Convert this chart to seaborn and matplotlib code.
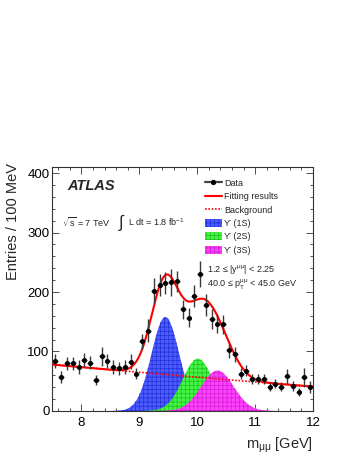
import numpy as np
import pandas as pd
import matplotlib
matplotlib.use('Agg')
import matplotlib.pyplot as plt
import matplotlib.patches as mpatches
from matplotlib.lines import Line2D
from matplotlib.ticker import MultipleLocator
import seaborn as sns

sns.set_theme(style='ticks')
plt.rcParams['font.family'] = ['Liberation Sans', 'DejaVu Sans']
plt.rcParams['mathtext.fontset'] = 'custom'
plt.rcParams['mathtext.rm'] = 'Liberation Sans'
plt.rcParams['mathtext.it'] = 'Liberation Sans:italic'
plt.rcParams['mathtext.bf'] = 'Liberation Sans:bold'
plt.rcParams['mathtext.default'] = 'regular'
plt.rcParams['hatch.linewidth'] = 0.5

# data: dimuon mass bins (GeV), entries / 100 MeV and errors
mass = [7.55, 7.65, 7.75, 7.85, 7.95, 8.05, 8.15, 8.25, 8.35, 8.45,
        8.55, 8.65, 8.75, 8.85, 8.95, 9.05, 9.15, 9.25, 9.35, 9.45,
        9.55, 9.65, 9.75, 9.85, 9.95, 10.05, 10.15, 10.25, 10.35, 10.45,
        10.55, 10.65, 10.75, 10.85, 10.95, 11.05, 11.15, 11.25, 11.35, 11.45,
        11.55, 11.65, 11.75, 11.85, 11.95]
entries = [84, 57, 80, 80, 74, 86, 81, 52, 92, 84,
           74, 72, 74, 83, 63, 117, 135, 202, 212, 215,
           216, 218, 171, 157, 193, 230, 178, 155, 147, 146,
           102, 95, 63, 68, 54, 54, 54, 40, 46, 41,
           58, 42, 32, 57, 41]
errors = [11, 10, 11, 11, 11, 12, 11, 9, 16, 12,
          11, 11, 11, 12, 10, 12, 19, 21, 18, 18,
          22, 18, 16, 16, 18, 22, 18, 17, 16, 16,
          13, 13, 10, 10, 8, 9, 8, 7, 8, 8,
          12, 9, 7, 16, 10]
bin_half = 0.05

# fit components
bkg_coef = [78.0, -8.79, 0.127]          # quadratic in (m - 7.5)
peak_names = ['ϒ (1S)', 'ϒ (2S)', 'ϒ (3S)']
peak_mass = [9.45, 10.01, 10.35]
peak_sigma = [0.24, 0.26, 0.28]
peak_amp = [158, 88, 68]
face_colors = ['#4b5bff', '#45f545', '#ff40ff']
hatch_colors = ['#2231d6', '#1fbf1f', '#cf1fcf']

m = np.linspace(7.5, 12.0, 451)
t = m - 7.5
bkg = bkg_coef[0] + bkg_coef[1] * t + bkg_coef[2] * t ** 2
peaks = [a * np.exp(-0.5 * ((m - mu) / s) ** 2)
         for mu, s, a in zip(peak_mass, peak_sigma, peak_amp)]
fit = bkg + sum(peaks)
curves = pd.DataFrame({'m': m, 'fit': fit, 'bkg': bkg})

fig = plt.figure(figsize=(3.57, 4.62), dpi=100)
ax = fig.add_axes([0.147, 0.1104, 0.7297, 0.528])

for p, fc, hc in zip(peaks, face_colors, hatch_colors):
    ax.fill_between(m, 0, p, facecolor=fc, edgecolor=hc, hatch='++++', lw=0, zorder=1)

sns.lineplot(data=curves, x='m', y='bkg', ax=ax, color='red', lw=1.2,
             linestyle=(0, (1, 1)), zorder=2)
sns.lineplot(data=curves, x='m', y='fit', ax=ax, color='red', lw=1.5, zorder=3)

ax.errorbar(mass, entries, yerr=errors, xerr=bin_half, fmt='o', ms=2.6,
            color='black', ecolor='#3a3a3a', elinewidth=1.0, capsize=0, zorder=4)

ax.set_xlim(7.5, 12.0)
ax.set_ylim(0, 410)
ax.xaxis.set_major_locator(MultipleLocator(1))
ax.xaxis.set_minor_locator(MultipleLocator(0.2))
ax.yaxis.set_major_locator(MultipleLocator(100))
ax.yaxis.set_minor_locator(MultipleLocator(20))
ax.tick_params(which='both', direction='in', top=True, right=True, width=0.6,
               colors='#333333', labelcolor='black', labelsize=9.5)
ax.tick_params(which='major', length=5)
ax.tick_params(which='minor', length=2.5)
ax.tick_params(axis='x', pad=4)
ax.tick_params(axis='y', pad=2)
for sp in ax.spines.values():
    sp.set_linewidth(0.8)
    sp.set_color('#333333')

ax.set_xlabel(r'm$_{\mu\mu}$ [GeV]', fontsize=10.5, loc='right')
ax.set_ylabel('Entries / 100 MeV', fontsize=10.5, loc='top')
ax.xaxis.set_label_coords(1.0, -0.1)
ax.yaxis.set_label_coords(-0.125, 1.015)

ax.text(0.055, 0.922, 'ATLAS', transform=ax.transAxes, fontsize=10.5,
        fontweight='bold', fontstyle='italic', va='center')
ax.text(0.036, 0.775, r'$\sqrt{s}$ = 7 TeV', transform=ax.transAxes,
        fontsize=6.5, va='center')
ax.text(0.255, 0.772, '∫', transform=ax.transAxes, fontsize=12, va='center')
ax.text(0.291, 0.775, r'L dt = 1.8 fb$^{-1}$', transform=ax.transAxes,
        fontsize=6.5, va='center')
ax.text(0.592, 0.582, r'1.2 ≤ |y$^{\mu\mu}$| < 2.25', transform=ax.transAxes,
        fontsize=6.5, va='center')
ax.text(0.592, 0.516, r'40.0 ≤ p$_{T}^{\mu\mu}$ < 45.0 GeV', transform=ax.transAxes,
        fontsize=6.5, va='center')

handles = [Line2D([], [], color='#444444', lw=1.6, marker='o', ms=2.8,
                  mfc='black', mec='black'),
           Line2D([], [], color='red', lw=1.5),
           Line2D([], [], color='red', lw=1.2, linestyle=(0, (1, 1)))]
labels = ['Data', 'Fitting results', 'Background']
for name, fc, hc in zip(peak_names, face_colors, hatch_colors):
    handles.append(mpatches.Patch(facecolor=fc, edgecolor=hc, hatch='++++', lw=0))
    labels.append(name)
ax.legend(handles, labels, loc='upper left', bbox_to_anchor=(0.585, 0.952),
          frameon=False, fontsize=6.5, handlelength=1.9, handleheight=1.0,
          handletextpad=0.25, labelspacing=0.47, borderpad=0, borderaxespad=0)

fig.savefig('out.png', dpi=100)
